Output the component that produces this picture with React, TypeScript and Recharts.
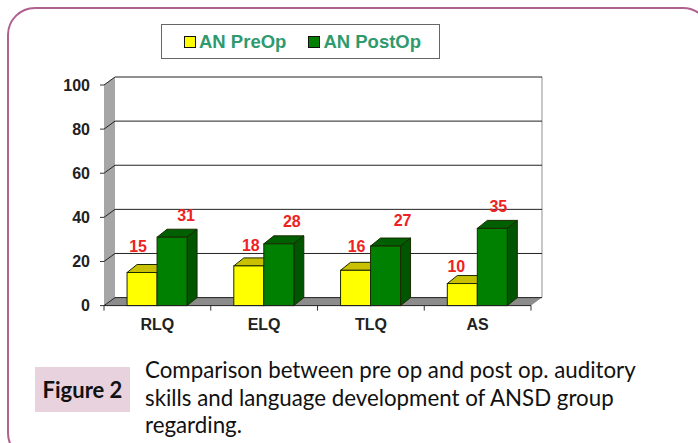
import {
  BarChart,
  Bar,
  XAxis,
  YAxis,
  CartesianGrid,
  Legend,
  LabelList,
  ReferenceArea,
} from "recharts";

const categories = ["RLQ", "ELQ", "TLQ", "AS"];
const preOp = [15, 18, 16, 10];
const postOp = [31, 28, 27, 35];
const yTicks = [0, 20, 40, 60, 80, 100];
const captionLines = [
  "Comparison between pre op and post op. auditory",
  "skills and language development of ANSD group",
  "regarding.",
];

// the source chart has its labels hand placed, not centred on the bars
const preLabelNudge = [[-4, -26], [2, -20], [1, -24], [-6, -17]];
const postLabelNudge = [[14, -22], [13, -22], [17, -26], [6, -22]];

const data = categories.map((name, i) => ({ name, pre: preOp[i], post: postOp[i] }));

const DX = 11;
const DY = 8;
const W = 698;
const H = 443;

function Bar3D(props: any) {
  const { x, y, width, height, fill, topFill, sideFill } = props;
  const d = DX - 1;
  return (
    <g stroke="#1a2a00" strokeWidth={1}>
      <polygon points={`${x},${y} ${x + d},${y - DY} ${x + width + d},${y - DY} ${x + width},${y}`} fill={topFill} />
      <polygon
        points={`${x + width},${y} ${x + width + d},${y - DY} ${x + width + d},${y + height - DY} ${x + width},${y + height}`}
        fill={sideFill}
      />
      <rect x={x} y={y} width={width} height={height} fill={fill} />
    </g>
  );
}

// walls and floor behind the bars
function Walls(props: any) {
  const { x, y, width, height } = props;
  const bottom = y + height;
  const step = width / categories.length;
  return (
    <g>
      <polygon points={`${x},${y} ${x + DX},${y - DY} ${x + DX},${bottom - DY} ${x},${bottom}`} fill="#a6a6a6" />
      <polygon
        points={`${x},${bottom} ${x + DX},${bottom - DY} ${x + width + DX},${bottom - DY} ${x + width},${bottom}`}
        fill="#8c8c8c"
      />
      <line x1={x + width + DX} y1={y - DY} x2={x + width + DX} y2={bottom - DY} stroke="#b5b5b5" strokeWidth={1.5} />
      {categories.map((c, i) => (
        <line key={c} x1={x + step * i} y1={bottom} x2={x + step * i} y2={bottom + 5} stroke="#333" />
      ))}
      <line x1={x + width} y1={bottom} x2={x + width} y2={bottom + 5} stroke="#333" />
    </g>
  );
}

function GridLine(props: any) {
  const { x1, y1, x2, y2 } = props;
  return (
    <polyline
      points={`${x1},${y1} ${x1 + DX},${y1 - DY} ${x2 + DX},${y2 - DY}`}
      fill="none"
      stroke="#222"
      strokeWidth={1}
    />
  );
}

function valueLabel(nudge: number[][]) {
  return (props: any) => {
    const { x, y, width, value, index } = props;
    return (
      <text
        x={x + width / 2 + nudge[index][0]}
        y={y + nudge[index][1]}
        textAnchor="middle"
        dominantBaseline="central"
        fill="#ee2222"
        fontFamily="'Liberation Sans', Arial, sans-serif"
        fontWeight="bold"
        fontSize={16}
      >
        {value}
      </text>
    );
  };
}

function LegendBox() {
  const items = [
    { label: "AN PreOp", color: "#ffff00" },
    { label: "AN PostOp", color: "#008000" },
  ];
  return (
    <div style={{ display: "flex", alignItems: "center", height: "100%", paddingLeft: 22, boxSizing: "border-box" }}>
      {items.map((it, i) => (
        <div key={it.label} style={{ display: "flex", alignItems: "center", marginRight: i === 0 ? 22 : 0 }}>
          <span
            style={{
              width: 10,
              height: 10,
              background: it.color,
              border: "1px solid #111",
              marginRight: 3,
            }}
          />
          <span
            style={{
              color: "#2f9a6e",
              fontFamily: "'Liberation Sans', Arial, sans-serif",
              fontWeight: "bold",
              fontSize: 18.5,
            }}
          >
            {it.label}
          </span>
        </div>
      ))}
    </div>
  );
}

export default function App() {
  const axisFont = { fontFamily: "'Liberation Sans', Arial, sans-serif", fontWeight: "bold", fill: "#222" };
  return (
    <div style={{ position: "absolute", left: 0, top: 0, width: W, height: H, overflow: "hidden", background: "#fff" }}>
      <div
        style={{
          position: "absolute",
          left: 7,
          top: 7,
          width: 700,
          height: 450,
          border: "2px solid #b0608f",
          borderRadius: 28,
        }}
      />
      <div style={{ position: "absolute", left: 0, top: 0 }}>
        <BarChart
          width={W}
          height={H}
          data={data}
          margin={{ top: 85, right: 167, bottom: 107.4, left: 54 }}
          barCategoryGap="21.6%"
          barGap={0}
        >
          <ReferenceArea y1={0} y2={100} shape={Walls} ifOverflow="visible" zIndex={-200} />
          <CartesianGrid vertical={false} horizontal={GridLine as any} />
          <XAxis
            dataKey="name"
            height={30}
            tickLine={false}
            axisLine={{ stroke: "#222" }}
            tick={{ ...axisFont, fontSize: 16 }}
            tickMargin={7}
          />
          <YAxis
            width={50}
            domain={[0, 100]}
            ticks={yTicks}
            axisLine={false}
            tickSize={4}
            tickLine={{ stroke: "#333" }}
            tick={{ ...axisFont, fontSize: 16 }}
            tickMargin={10}
          />
          <Legend
            layout="vertical"
            align="center"
            verticalAlign="middle"
            content={<LegendBox />}
            wrapperStyle={{
              position: "absolute",
              left: 161,
              top: 24,
              width: 279,
              height: 35,
              boxSizing: "border-box",
              border: "1px solid #666",
              background: "#fff",
            }}
          />
          <Bar
            dataKey="pre"
            name="AN PreOp"
            fill="#ffff00"
            isAnimationActive={false}
            shape={(p: any) => <Bar3D {...p} topFill="#c8c000" sideFill="#9a9400" />}
          >
            <LabelList dataKey="pre" content={valueLabel(preLabelNudge)} />
          </Bar>
          <Bar
            dataKey="post"
            name="AN PostOp"
            fill="#008000"
            isAnimationActive={false}
            shape={(p: any) => <Bar3D {...p} topFill="#005f00" sideFill="#005500" />}
          >
            <LabelList dataKey="post" content={valueLabel(postLabelNudge)} />
          </Bar>
        </BarChart>
      </div>
      <div
        style={{
          position: "absolute",
          left: 35,
          top: 367,
          width: 95,
          height: 45,
          lineHeight: "45px",
          textAlign: "center",
          background: "#e8d2de",
          fontFamily: "Lato, sans-serif",
          fontWeight: "bold",
          fontSize: 22,
          color: "#111",
        }}
      >
        Figure 2
      </div>
      <div
        style={{
          position: "absolute",
          left: 145,
          top: 356,
          fontFamily: "Lato, sans-serif",
          fontSize: 22.3,
          lineHeight: "27.5px",
          color: "#111",
          whiteSpace: "nowrap",
        }}
      >
        {captionLines.map((l) => (
          <div key={l}>{l}</div>
        ))}
      </div>
    </div>
  );
}
